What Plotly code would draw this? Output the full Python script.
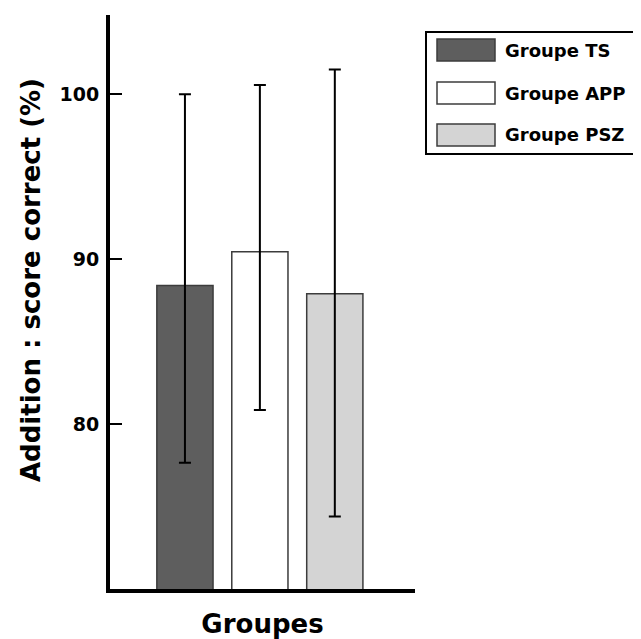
import plotly.graph_objects as go

# ---- data ----
groups = ["Groupe TS", "Groupe APP", "Groupe PSZ"]
means = [88.4, 90.45, 87.9]
err_upper = [100.0, 100.55, 101.5]   # top end of each error bar
err_lower = [77.65, 80.85, 74.4]     # bottom end of each error bar
y_ticks = [80, 90, 100]
y_title = "Addition : score correct (%)"
x_title = "Groupes"

# ---- styles ----
fills = ["#5e5e5e", "#ffffff", "#d4d4d4"]
FONT = "DejaVu Sans"
OFF = 8  # default page body margin
W, H = 641 - OFF, 639 - OFF
L, T = 110 - OFF, 15 - OFF
PR, PB = 415 - OFF, 589 - OFF
R, B = W - PR, H - PB
plot_w = PR - L
plot_h = PB - T

def px_x(px):
    return (px - OFF - L) / plot_w

def px_y(py):
    return (PB - (py - OFF)) / plot_h

plus = [u - m for u, m in zip(err_upper, means)]
minus = [m - l for m, l in zip(means, err_lower)]

fig = go.Figure()
fig.add_trace(go.Bar(
    x=groups, y=means, base=0,
    width=0.75,
    marker=dict(color=fills, line=dict(color="#3c3c3c", width=1.5)),
    error_y=dict(type="data", symmetric=False, array=plus, arrayminus=minus,
                 color="black", thickness=2, width=6),
    showlegend=False,
))

# manual legend (large swatches like the reference)
shapes = []
annotations = []
shapes.append(dict(type="rect", xref="paper", yref="paper",
                   x0=px_x(426), x1=px_x(638), y0=px_y(32), y1=px_y(154),
                   line=dict(color="black", width=2), fillcolor="white", layer="above"))
row_centers = [50, 93, 135]
for g, c, yc in zip(groups, fills, row_centers):
    shapes.append(dict(type="rect", xref="paper", yref="paper",
                       x0=px_x(437), x1=px_x(495), y0=px_y(yc - 11), y1=px_y(yc + 11),
                       line=dict(color="#3c3c3c", width=1.5), fillcolor=c, layer="above"))
    annotations.append(dict(text=g, xref="paper", yref="paper",
                            x=px_x(503), y=px_y(yc), xanchor="left", yanchor="middle",
                            showarrow=False,
                            font=dict(family=FONT, size=18, color="black", weight="bold")))

# y-axis title (placed slightly above centre, as in the reference)
annotations.append(dict(text=y_title, xref="paper", yref="paper",
                        x=px_x(31), y=px_y(280), xanchor="center", yanchor="middle",
                        textangle=-90, showarrow=False,
                        font=dict(family=FONT, size=26, color="black", weight="bold")))

fig.update_layout(
    width=W, height=H,
    margin=dict(l=L, r=R, t=T, b=B, pad=0),
    plot_bgcolor="white", paper_bgcolor="white",
    shapes=shapes, annotations=annotations,
    font=dict(family=FONT, color="black"),
    xaxis=dict(
        range=[-1.0, 3.07], showticklabels=False, ticks="",
        showline=True, linecolor="black", linewidth=4, showgrid=False, zeroline=False,
        title=dict(text=x_title, standoff=24,
                   font=dict(family=FONT, size=26, color="black", weight="bold")),
    ),
    yaxis=dict(
        range=[70, 104.8], tickvals=y_ticks, ticks="inside", ticklen=12, tickwidth=2,
        tickcolor="black", ticklabelstandoff=3,
        tickfont=dict(family=FONT, size=19, color="black", weight="bold"),
        showline=True, linecolor="black", linewidth=4, showgrid=False, zeroline=False,
    ),
)

fig.write_html("out.html")
